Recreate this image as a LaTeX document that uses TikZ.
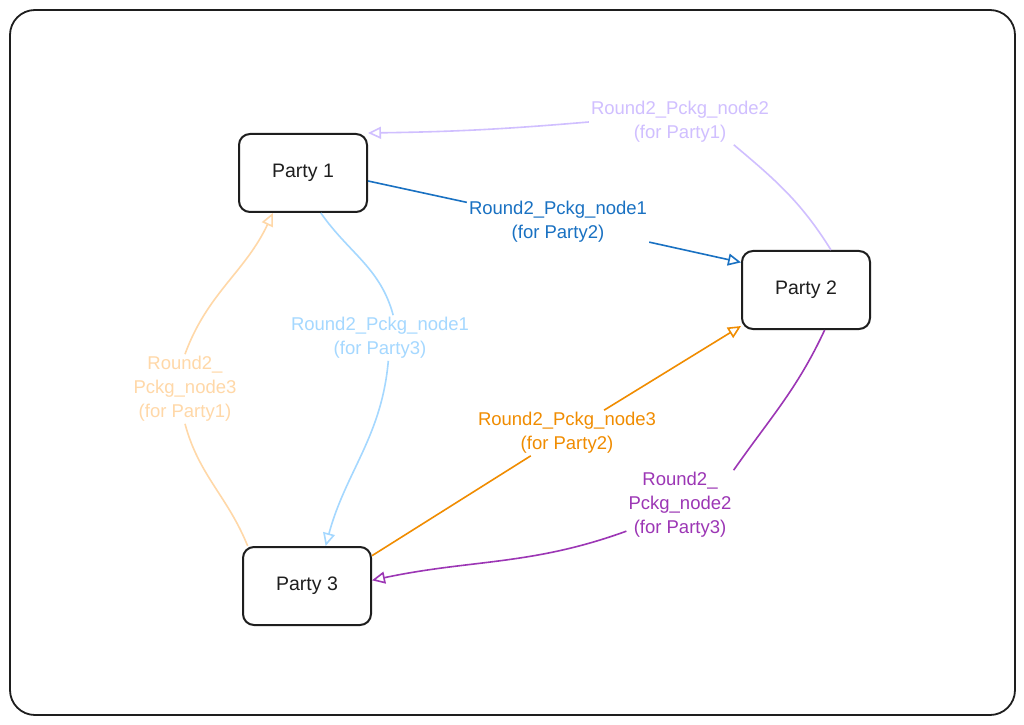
\documentclass[tikz,border=0pt]{standalone}
\usepackage{fontspec}
\setmainfont{Liberation Sans}
\usepackage{xcolor}
\usepackage{tikz}
\usetikzlibrary{arrows.meta}
\definecolor{PkgInk}{RGB}{30, 30, 30}
\definecolor{PkgBlue}{RGB}{25, 113, 194}
\definecolor{PkgSky}{RGB}{165, 216, 255}
\definecolor{PkgOrange}{RGB}{240, 140, 0}
\definecolor{PkgPeach}{RGB}{255, 216, 168}
\definecolor{PkgPurple}{RGB}{156, 54, 181}
\definecolor{PkgLilac}{RGB}{208, 191, 255}

\begin{document}
\begin{tikzpicture}[x=1pt,y=1pt,
    party/.style={draw=PkgInk, line width=2pt, rounded corners=11pt, minimum width=128pt,
                  minimum height=78pt, text=PkgInk, font=\fontsize{19.5}{22}\selectfont},
    pkglabel/.style={align=center, inner sep=2pt, font=\fontsize{18.5}{24}\selectfont},
    pkgline/.style={line width=1.6pt},
    pkgarrow/.style={pkgline, -{Triangle[open, length=13pt, width=12pt]}}]
  \path[use as bounding box] (0,0) rectangle (1024,724);
  \fill[white] (0,0) rectangle (1024,724);
  \draw[PkgInk, line width=1.8pt, rounded corners=25pt] (10,9) rectangle (1015,714);

  % Parties
  \node[party] (p1) at (303,551) {Party 1};
  \node[party] (p2) at (806,434) {Party 2};
  \node[party] (p3) at (307,138) {Party 3};

  % Labels
  \node[pkglabel, text=PkgLilac]  (l21) at (680,602) {Round2\_Pckg\_node2\\(for Party1)};
  \node[pkglabel, text=PkgBlue]   (l12) at (558,502) {Round2\_Pckg\_node1\\(for Party2)};
  \node[pkglabel, text=PkgSky]    (l13) at (380,386) {Round2\_Pckg\_node1\\(for Party3)};
  \node[pkglabel, text=PkgPeach]  (l31) at (185,335) {Round2\_\\Pckg\_node3\\(for Party1)};
  \node[pkglabel, text=PkgOrange] (l32) at (567,291) {Round2\_Pckg\_node3\\(for Party2)};
  \node[pkglabel, text=PkgPurple] (l23) at (680,219) {Round2\_\\Pckg\_node2\\(for Party3)};

  % Party 2 -> Party 1
  \draw[pkgline, PkgLilac] (p2.58) to[out=122, in=-40] (l21.-23);
  \draw[pkgarrow, PkgLilac] (l21.west) to[bend left=2] (p1.north east);

  % Party 1 -> Party 2
  \draw[pkgline, PkgBlue] (p1.-7) -- (l12);
  \draw[pkgarrow, PkgBlue] (l12) -- (p2.157);

  % Party 1 -> Party 3
  \draw[pkgline, PkgSky] (p1.-66) to[out=-55, in=105] (l13.60);
  \draw[pkgarrow, PkgSky] (l13.-70) to[out=-95, in=75] (p3.65);

  % Party 3 -> Party 1
  \draw[pkgline, PkgPeach] (p3.146) to[out=112, in=-75] (l31.south);
  \draw[pkgarrow, PkgPeach] (l31.north) to[out=70, in=-115] (p1.-127);

  % Party 3 -> Party 2
  \draw[pkgline, PkgOrange] (p3.25) -- (l32);
  \draw[pkgarrow, PkgOrange] (l32) -- (p2.209);

  % Party 2 -> Party 3
  \draw[pkgline, PkgPurple] (p2.-65) to[out=-115, in=55] (l23.north east);
  \draw[pkgarrow, PkgPurple] (l23.206) to[out=200, in=12] (p3.5);
\end{tikzpicture}
\end{document}
